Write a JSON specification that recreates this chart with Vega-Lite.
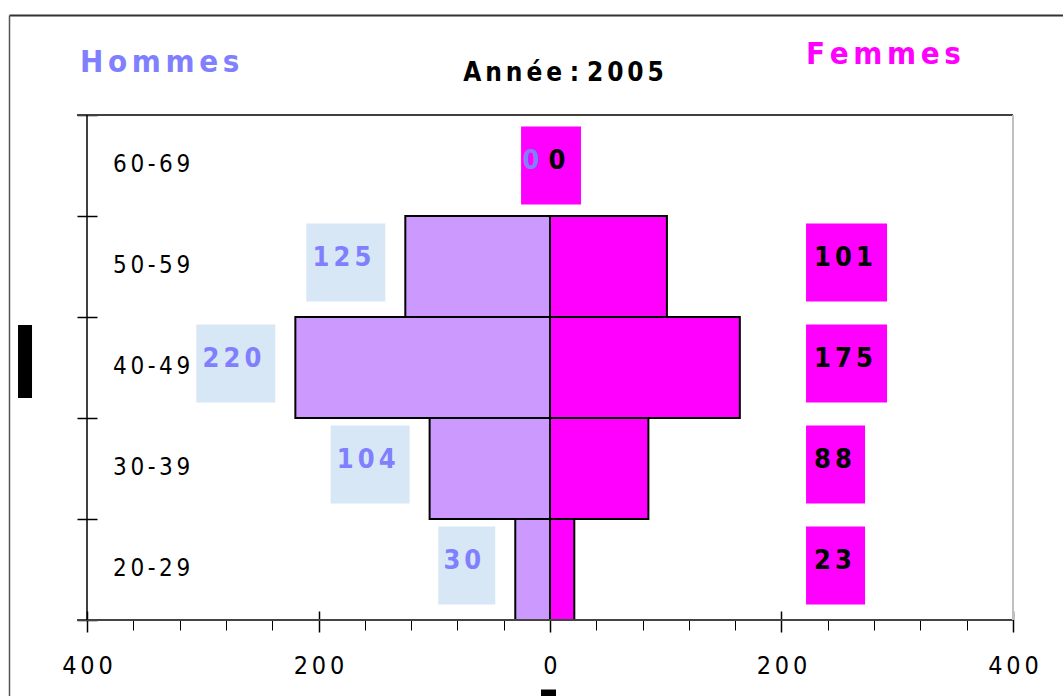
{
  "$schema": "https://vega.github.io/schema/vega-lite/v6.json",
  "width": 1054,
  "height": 681,
  "autosize": {"type": "none"},
  "padding": {"left": 9, "top": 15, "right": 0, "bottom": 0},
  "background": "white",
  "config": {
    "view": {"stroke": null},
    "font": "DejaVu Sans Condensed, DejaVu Sans, sans-serif",
    "text": {"font": "DejaVu Sans Condensed, DejaVu Sans, sans-serif"}
  },
  "datasets": {
    "pop": [
      {"age": "60-69", "hommes": 0, "femmes": 0, "femmesLabel": 0},
      {"age": "50-59", "hommes": -125, "femmes": 101, "femmesLabel": 101},
      {"age": "40-49", "hommes": -220, "femmes": 164, "femmesLabel": 175},
      {"age": "30-39", "hommes": -104, "femmes": 85, "femmesLabel": 88},
      {"age": "20-29", "hommes": -30, "femmes": 21, "femmesLabel": 23}
    ]
  },
  "data": {"name": "pop"},
  "resolve": {"axis": {"x": "independent", "y": "independent"}},
  "layer": [
    {
      "transform": [{"filter": "datum.hommes < 0"}],
      "mark": {"type": "bar", "fill": "#cc99ff", "stroke": "#000000", "strokeWidth": 2},
      "encoding": {
        "x": {
          "field": "hommes", "type": "quantitative",
          "scale": {"domain": [-467.39, 443.2], "nice": false, "zero": false},
          "axis": {
            "orient": "bottom", "offset": -85, "values": [-400, -200, 0, 200, 400],
            "tickSize": 21, "tickWidth": 1.5, "tickColor": "#000000", "domain": false, "grid": false,
            "labelExpr": "join(split(toString(abs(datum.value)),''),'\u2006')",
            "labelFont": "DejaVu Sans Condensed, DejaVu Sans, sans-serif",
            "labelFontSize": 25, "labelPadding": 21, "labelColor": "#000000",
            "labelFlush": false, "labelOverlap": false, "labelBound": false, "title": null
          }
        },
        "x2": {"datum": 0},
        "y": {
          "field": "age", "type": "nominal",
          "scale": {"domain": ["60-69", "50-59", "40-49", "30-39", "20-29"], "paddingInner": 0, "paddingOuter": 0.8713, "align": 0.5682},
          "axis": {"orient": "left", "offset": 0, "domain": true, "domainColor": "#555555", "domainWidth": 1.5, "ticks": false, "labels": false, "grid": false, "title": null}
        }
      }
    },
    {
      "transform": [{"filter": "datum.femmes > 0"}],
      "mark": {"type": "bar", "fill": "#ff00ff", "stroke": "#000000", "strokeWidth": 2},
      "encoding": {
        "x": {
          "field": "femmes", "type": "quantitative",
          "axis": {
            "orient": "bottom", "offset": -76,
            "values": [-400, -360, -320, -280, -240, -200, -160, -120, -80, -40, 0, 40, 80, 120, 160, 200, 240, 280, 320, 360, 400],
            "tickSize": 10, "tickWidth": 1, "tickColor": "#000000", "domain": false, "grid": false, "labels": false, "title": null
          }
        },
        "x2": {"datum": 0},
        "y": {
          "field": "age", "type": "nominal",
          "axis": {"orient": "left", "offset": -88, "tickBand": "extent", "tickSize": 20, "tickWidth": 1.5, "tickColor": "#000000", "domain": false, "labels": false, "grid": false, "title": null}
        }
      }
    },
    {
      "data": {"values": [{}]},
      "mark": {"type": "rule", "color": "#404040", "strokeWidth": 2},
      "encoding": {
        "x": {"datum": -408.6, "type": "quantitative", "axis": {"orient": "top", "offset": 0, "domain": true, "domainColor": "#333333", "domainWidth": 2, "ticks": false, "labels": false, "grid": false, "title": null}},
        "x2": {"datum": 400},
        "y": {"datum": "60-69", "type": "nominal", "bandPosition": 0, "axis": null}
      }
    },
    {
      "data": {"values": [{}]},
      "mark": {"type": "rule", "color": "#444444", "strokeWidth": 2},
      "encoding": {
        "x": {"datum": -408.6, "type": "quantitative", "axis": null},
        "x2": {"datum": 400},
        "y": {"datum": "20-29", "type": "nominal", "bandPosition": 1, "axis": null}
      }
    },
    {
      "data": {"values": [{}]},
      "mark": {"type": "rule", "color": "#000000", "strokeWidth": 1.5},
      "encoding": {
        "x": {"datum": -400, "type": "quantitative", "axis": null},
        "y": {"datum": "60-69", "type": "nominal", "bandPosition": 0, "axis": null},
        "y2": {"datum": "20-29", "bandPosition": 1}
      }
    },
    {
      "data": {"values": [{}]},
      "mark": {"type": "rule", "color": "#c0c0c0", "strokeWidth": 2},
      "encoding": {
        "x": {"datum": 400, "type": "quantitative", "axis": null},
        "y": {"datum": "60-69", "type": "nominal", "bandPosition": 0, "axis": null},
        "y2": {"datum": "20-29", "bandPosition": 1}
      }
    },
    {
      "data": {"values": [{}]},
      "mark": {"type": "bar", "fill": "#000000", "height": 73, "yOffset": -6},
      "encoding": {
        "x": {"datum": -459.6, "type": "quantitative", "axis": null},
        "x2": {"datum": -447.5},
        "y": {"datum": "40-49", "type": "nominal", "axis": null}
      }
    },
    {
      "data": {"values": [{}]},
      "mark": {"type": "bar", "fill": "#000000", "height": 8, "yOffset": 124},
      "encoding": {
        "x": {"datum": -7.8, "type": "quantitative", "axis": null},
        "x2": {"datum": 5.2},
        "y": {"datum": "20-29", "type": "nominal", "axis": null}
      }
    },
    {
      "transform": [{"filter": "datum.hommes <= -100"}],
      "mark": {"type": "bar", "fill": "#d8e7f5", "height": 78, "yOffset": -4, "xOffset": -99, "x2Offset": -20},
      "encoding": {
        "x": {"field": "hommes", "type": "quantitative", "axis": null},
        "x2": {"field": "hommes"},
        "y": {"field": "age", "type": "nominal", "axis": null}
      }
    },
    {
      "transform": [{"filter": "datum.hommes > -100 && datum.hommes < 0"}],
      "mark": {"type": "bar", "fill": "#d8e7f5", "height": 78, "yOffset": -4, "xOffset": -77, "x2Offset": -20},
      "encoding": {
        "x": {"field": "hommes", "type": "quantitative", "axis": null},
        "x2": {"field": "hommes"},
        "y": {"field": "age", "type": "nominal", "axis": null}
      }
    },
    {
      "transform": [{"filter": "datum.femmesLabel >= 100"}],
      "mark": {"type": "bar", "fill": "#ff00ff", "height": 78, "yOffset": -4},
      "encoding": {
        "x": {"datum": 221.2, "type": "quantitative", "axis": null},
        "x2": {"datum": 291.2},
        "y": {"field": "age", "type": "nominal", "axis": null}
      }
    },
    {
      "transform": [{"filter": "datum.femmesLabel > 0 && datum.femmesLabel < 100"}],
      "mark": {"type": "bar", "fill": "#ff00ff", "height": 78, "yOffset": -4},
      "encoding": {
        "x": {"datum": 221.2, "type": "quantitative", "axis": null},
        "x2": {"datum": 272.2},
        "y": {"field": "age", "type": "nominal", "axis": null}
      }
    },
    {
      "transform": [{"filter": "datum.femmesLabel == 0"}],
      "mark": {"type": "bar", "fill": "#ff00ff", "height": 78, "yOffset": 0},
      "encoding": {
        "x": {"datum": -25, "type": "quantitative", "axis": null},
        "x2": {"datum": 26.8},
        "y": {"field": "age", "type": "nominal", "axis": null}
      }
    },
    {
      "transform": [{"filter": "datum.hommes < 0"}],
      "mark": {"type": "text", "align": "right", "baseline": "middle", "xOffset": -34, "yOffset": -9, "color": "#8080ff", "fontSize": 27, "fontWeight": "bold",
        "text": {"expr": "join(split(toString(abs(datum.hommes)),''),'\u2006')"}},
      "encoding": {
        "x": {"field": "hommes", "type": "quantitative", "axis": null},
        "y": {"field": "age", "type": "nominal", "axis": null}
      }
    },
    {
      "transform": [{"filter": "datum.hommes == 0"}],
      "mark": {"type": "text", "align": "center", "baseline": "middle", "xOffset": -19, "yOffset": -4.5, "color": "#8080ff", "fontSize": 27, "fontWeight": "bold",
        "text": {"expr": "toString(abs(datum.hommes))"}},
      "encoding": {
        "x": {"field": "hommes", "type": "quantitative", "axis": null},
        "y": {"field": "age", "type": "nominal", "axis": null}
      }
    },
    {
      "transform": [{"filter": "datum.femmesLabel > 0"}],
      "mark": {"type": "text", "align": "left", "baseline": "middle", "xOffset": 8, "yOffset": -9, "color": "#000000", "fontSize": 27, "fontWeight": "bold",
        "text": {"expr": "join(split(toString(datum.femmesLabel),''),'\u2006')"}},
      "encoding": {
        "x": {"datum": 221.2, "type": "quantitative", "axis": null},
        "y": {"field": "age", "type": "nominal", "axis": null}
      }
    },
    {
      "transform": [{"filter": "datum.femmesLabel == 0"}],
      "mark": {"type": "text", "align": "center", "baseline": "middle", "xOffset": 7, "yOffset": -4.5, "color": "#000000", "fontSize": 27, "fontWeight": "bold",
        "text": {"expr": "toString(datum.femmesLabel)"}},
      "encoding": {
        "x": {"datum": 0, "type": "quantitative", "axis": null},
        "y": {"field": "age", "type": "nominal", "axis": null}
      }
    },
    {
      "mark": {"type": "text", "align": "left", "baseline": "middle", "yOffset": -1, "color": "#000000", "fontSize": 24,
        "text": {"expr": "join(split(datum.age,''),'\u2006')"}},
      "encoding": {
        "x": {"datum": -377.5, "type": "quantitative", "axis": null},
        "y": {"field": "age", "type": "nominal", "axis": null}
      }
    },
    {
      "data": {"values": [{"titre": "Année : 2005"}]},
      "mark": {"type": "text", "align": "center", "baseline": "middle", "yOffset": -92.5, "color": "#000000", "fontSize": 26, "fontWeight": "bold",
        "text": {"expr": "replace(join(split(datum.titre,''),'\u2006'), regexp(' ','g'), '')"}},
      "encoding": {
        "x": {"datum": 11.7, "type": "quantitative", "axis": null},
        "y": {"datum": "60-69", "type": "nominal", "axis": null}
      }
    },
    {
      "data": {"values": [{"titre": "Hommes"}]},
      "mark": {"type": "text", "align": "left", "baseline": "middle", "yOffset": -102.5, "color": "#8080ff", "fontSize": 31, "fontWeight": "bold",
        "text": {"expr": "join(split(datum.titre,''),'\u2006')"}},
      "encoding": {
        "x": {"datum": -406, "type": "quantitative", "axis": null},
        "y": {"datum": "60-69", "type": "nominal", "axis": null}
      }
    },
    {
      "data": {"values": [{"titre": "Femmes"}]},
      "mark": {"type": "text", "align": "left", "baseline": "middle", "yOffset": -110.5, "color": "#ff00ff", "fontSize": 31, "fontWeight": "bold",
        "text": {"expr": "join(split(datum.titre,''),'\u2006')"}},
      "encoding": {
        "x": {"datum": 221.2, "type": "quantitative", "axis": null},
        "y": {"datum": "60-69", "type": "nominal", "axis": null}
      }
    }
  ]
}
